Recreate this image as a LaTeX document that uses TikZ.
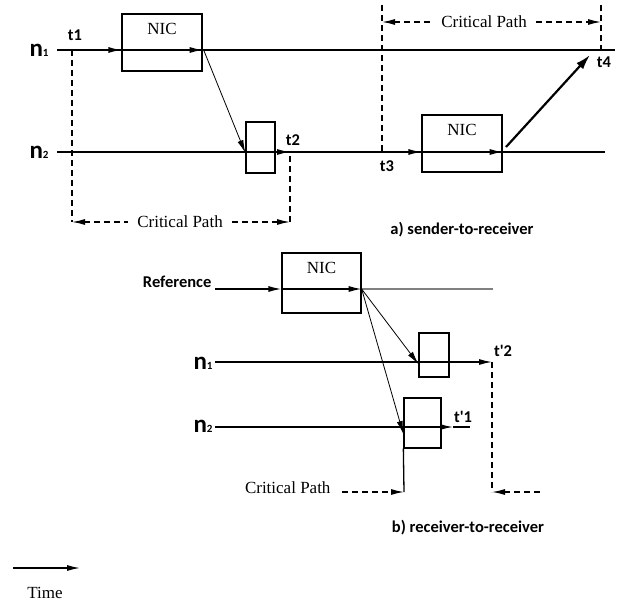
\documentclass[tikz,border=0pt]{standalone}
\usepackage{fontspec}
\setmainfont{Liberation Serif}
\newfontfamily\lblfont{Carlito}
\usetikzlibrary{arrows.meta}

\tikzset{
	line/.style={line width=1.3pt},
	crit/.style={line width=1.3pt, dash pattern=on 6pt off 4pt},
	nicbox/.style={draw, line width=1.3pt, inner sep=0pt},
	serif/.style={font=\fontsize{17}{19}\selectfont},
	lbl/.style={font=\lblfont\bfseries\fontsize{16.5}{18}\selectfont},
	>={Latex[length=13pt,width=6pt]}
}
\newcommand{\nlab}[1]{{\fontsize{25}{25}\selectfont n}{\fontsize{11}{11}\selectfont #1}}

\begin{document}
\begin{tikzpicture}[x=1pt,y=-1pt]

	\useasboundingbox (0,0) rectangle (634,604);

	% a) sender-to-receiver
	\coordinate (a1s) at (57,50);
	\coordinate (a1e) at (615,50);
	\coordinate (a2s) at (57,152);
	\coordinate (a2e) at (605,152);

	\node[nicbox, minimum width=80pt, minimum height=57pt] (nicA) at (162,42.5) {};
	\node[serif] (nicAtxt) at ([yshift=-16pt]nicA.north) {NIC};
	\node[nicbox, minimum width=29pt, minimum height=51pt] (rcvA) at (260.5,147.5) {};
	\node[nicbox, minimum width=80pt, minimum height=57pt] (nicB) at (462,143.5) {};
	\node[serif] (nicBtxt) at ([yshift=-16pt]nicB.north) {NIC};

	\node[lbl, anchor=base] (n1a) at (39,57) {\nlab{1}};
	\node[lbl, anchor=base] (n2a) at (39,159) {\nlab{2}};
	\node[lbl] (t1) at (75,35) {t1};
	\node[lbl] (t2) at (293,140) {t2};
	\node[lbl] (t3) at (387,166) {t3};
	\node[lbl] (t4) at (604,62) {t4};

	\draw[line] (a1s) -- (a1e);
	\draw[line,->] (a1s) -- (nicA.west |- a1s);
	\draw[line,->] (nicA.west |- a1s) -- (nicA.east |- a1s);
	\draw[line] (a2s) -- (a2e);
	\coordinate (t2p) at (290,152);
	\draw[line,->] (rcvA.west |- a2s) -- (t2p);
	\draw[line,->] (t2p) -- (nicB.west |- a2s);
	\draw[line,->] (nicB.west |- a2s) -- (nicB.east |- a2s);
	\draw[thick,->] ([xshift=1pt]nicA.east |- a1s) -- ([yshift=-1pt]rcvA.west |- a2s);
	\draw[line width=2.2pt,-{Latex[length=15pt,width=9pt]}] (506,147) -- (590,55);

	% critical path (left)
	\node[serif] (cpA) at (180,222) {Critical Path};
	\draw[crit] (72,50) -- (72,222);
	\draw[crit,<-] (72,222) -- ([xshift=-6pt]cpA.west);
	\draw[crit,->] ([xshift=6pt]cpA.east) -- (290,222);
	\draw[crit] (290,222) -- (t2p);

	% critical path (right)
	\node[serif] (cpB) at (484,22) {Critical Path};
	\draw[crit] (382,5) -- (382,152);
	\draw[crit,<-] (382,22) -- ([xshift=-6pt]cpB.west);
	\draw[crit,->] ([xshift=6pt]cpB.east) -- (601,22);
	\draw[crit] (601,5) -- (601,50);

	\node[lbl] (capA) at (462,230) {a) sender-to-receiver};

	% b) receiver-to-receiver
	\coordinate (rs) at (215,289);
	\coordinate (re) at (493,289);
	\coordinate (b1s) at (215,362);
	\coordinate (b2s) at (215,427);

	\node[nicbox, minimum width=79pt, minimum height=60pt] (nicC) at (321.5,283) {};
	\node[serif] (nicCtxt) at ([yshift=-16pt]nicC.north) {NIC};
	\node[nicbox, minimum width=30pt, minimum height=44pt] (rcvB) at (434,355) {};
	\node[nicbox, minimum width=37pt, minimum height=50pt] (rcvC) at (422.5,423) {};

	\node[lbl, anchor=east] (ref) at (215,282) {Reference};
	\node[lbl, anchor=base] (n1b) at (203,369) {\nlab{1}};
	\node[lbl, anchor=base] (n2b) at (203,432) {\nlab{2}};
	\node[lbl] (tp2) at (503,351) {t'2};
	\node[lbl] (tp1) at (463,417) {t'1};

	\draw[line,gray] (nicC.east |- rs) -- (re);
	\draw[line,->] (rs) -- (nicC.west |- rs);
	\draw[line,->] (nicC.west |- rs) -- (nicC.east |- rs);
	\coordinate (tp2p) at (492,362);
	\draw[line] (b1s) -- (rcvB.west |- b1s);
	\draw[line,->] (rcvB.west |- b1s) -- (tp2p);
	\coordinate (tp1p) at (470,427);
	\draw[line] (b2s) -- (rcvC.west |- b2s);
	\draw[line,->] (rcvC.west |- b2s) -- (453,427);
	\draw[line] (453,427) -- (tp1p);
	\draw[thick,->] (nicC.east |- rs) -- ([yshift=-2pt]rcvB.west |- b1s);
	\draw[thick,->] (nicC.east |- rs) -- ([yshift=-7pt]rcvC.west |- b2s);

	% critical path (b)
	\coordinate (cpl) at (404,492);
	\coordinate (cpr) at (492,492);
	\draw[line] (rcvC.south west) -- (cpl);
	\node[serif, anchor=east] (cpC) at (334,488) {Critical Path};
	\draw[crit,->] ([xshift=8pt]cpC.east |- cpl) -- (cpl);
	\draw[crit] (tp2p) -- (cpr);
	\draw[crit,<-] (cpr) -- (543,492);

	\node[lbl] (capB) at (468,528) {b) receiver-to-receiver};

	% time axis
	\coordinate (ts) at (13,568);
	\coordinate (te) at (80,568);
	\draw[line,->] (ts) -- (te);
	\node[serif] (time) at (45,593) {Time};

\end{tikzpicture}
\end{document}
